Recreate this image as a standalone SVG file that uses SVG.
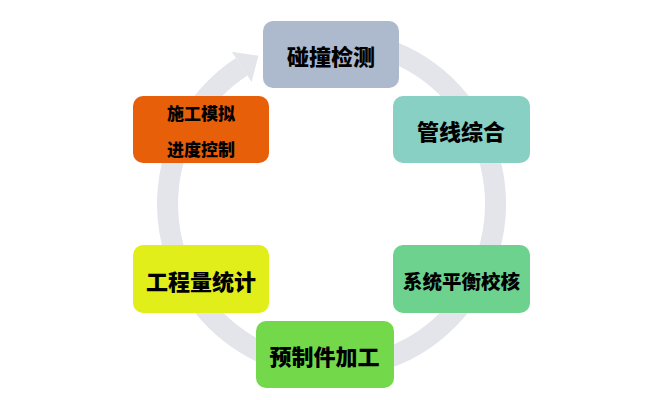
<svg xmlns="http://www.w3.org/2000/svg" width="670" height="400" viewBox="0 0 670 400">
<style>
.box{stroke:none}
.t{font-family:"Noto Sans CJK SC","Noto Sans",sans-serif;font-weight:900;fill:#000;text-anchor:middle;dominant-baseline:central}
.ring{fill:none;stroke:#e3e5ea;stroke-width:21}
</style>
<rect width="670" height="400" fill="#ffffff"/>
<g id="connectors">
<path class="ring" d="M 331.5 40 A 164 164 0 1 1 241.7 66.8"/>
<polygon points="231.8,51.7 258.4,55.8 251.6,81.9" fill="#e3e5ea"/>
</g>
<g id="n1"><rect class="box" x="263" y="21" width="136" height="67" rx="10" fill="#adb9cc"/><text class="t" x="331" y="55" font-size="22">碰撞检测</text></g>
<g id="n2"><rect class="box" x="393" y="96" width="137" height="67" rx="10" fill="#88cfc4"/><text class="t" x="461" y="130" font-size="22">管线综合</text></g>
<g id="n3"><rect class="box" x="393" y="245" width="137" height="68" rx="10" fill="#6dd28e"/><text class="t" x="461.5" y="280" font-size="19.5">系统平衡校核</text></g>
<g id="n4"><rect class="box" x="256" y="321" width="138" height="67" rx="10" fill="#74d94a"/><text class="t" x="324.5" y="355" font-size="22">预制件加工</text></g>
<g id="n5"><rect class="box" x="133" y="245" width="136" height="68" rx="10" fill="#e2ee1a"/><text class="t" x="201" y="280" font-size="22">工程量统计</text></g>
<g id="n6"><rect class="box" x="133" y="96" width="136" height="67" rx="10" fill="#e85f0a"/><text class="t" x="201" y="112" font-size="17">施工模拟</text><text class="t" x="201" y="148" font-size="17">进度控制</text></g>
</svg>
